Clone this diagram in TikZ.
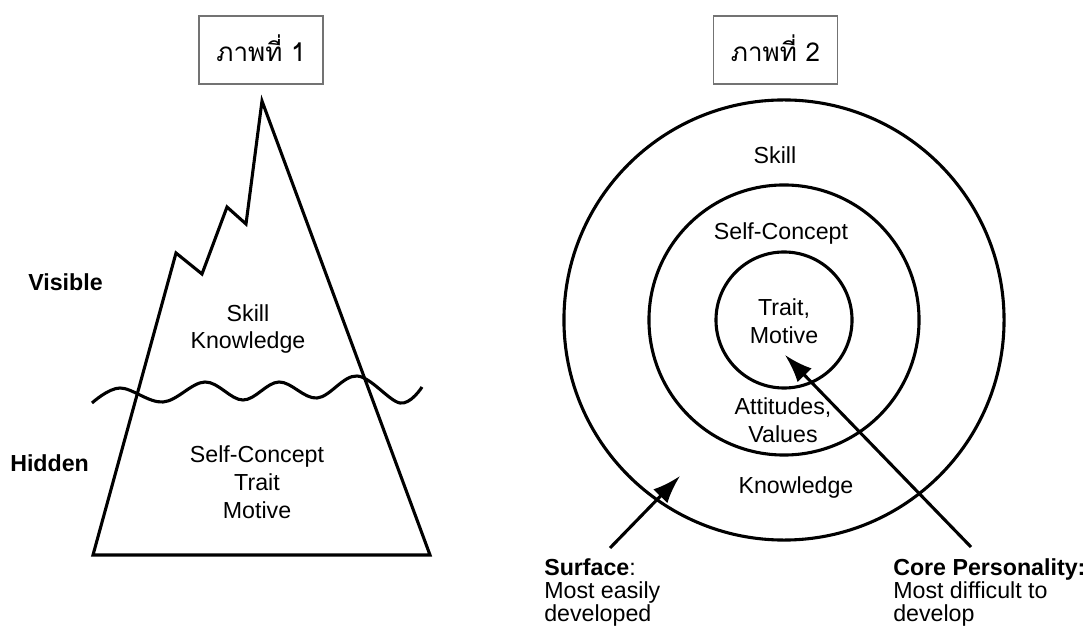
\documentclass[tikz,border=0pt]{standalone}
\usepackage{fontspec}
\setmainfont{Liberation Sans}
\newfontfamily\thaifont[Script=Thai]{Loma}
\usetikzlibrary{arrows.meta,positioning}

\tikzset{
  txt/.style={font=\fontsize{16.5}{19.9}\selectfont, align=center, inner sep=0pt},
  lbl/.style={font=\fontsize{16.5}{19.9}\selectfont\bfseries, inner sep=0pt, anchor=west},
  note/.style={font=\fontsize{16.5}{16.4}\selectfont, align=left, inner sep=0pt, anchor=north west},
  titlebox/.style={draw=black!55, line width=1pt, minimum width=3.1cm, minimum height=1.7cm,
    font=\thaifont\fontsize{18.5}{22}\selectfont},
  outline/.style={line width=2.2pt},
  pointer/.style={line width=2.2pt, -{Latex[length=20pt,width=14pt]}}
}

\begin{document}
\begin{tikzpicture}[x=0.025cm, y=-0.025cm]
\useasboundingbox (0,0) rectangle (1091,628);

% 标题
\node[titlebox] (title1) at (261,50) {\raisebox{3pt}{ภาพที่ 1}};
\node[titlebox] (title2) at (775.5,50) {\raisebox{3pt}{ภาพที่ 2}};

% 冰山
\draw[outline] (93,555) -- (176,253) -- (202,274) -- (227,207) -- (246,224)
  -- (262,101) -- (430,555) -- cycle;
\draw[outline] plot[smooth, tension=0.6] coordinates {(92,403) (120,388) (163,402)
  (205,382) (243,400) (279,382) (317,398) (357,376) (400,403) (422,387)};
\node[txt] (upper) at (248,329) {Skill\\Knowledge};
\node[txt] (lower) at (257,482) {Self-Concept\\Trait\\Motive};
\node[lbl] (visible) at (28,282) {Visible};
\node[lbl] (hidden) at (10,463) {Hidden};

% 同心圆
\coordinate (ctr) at (784,320);
\draw[outline] (ctr) circle[radius=5.5cm];
\draw[outline] (ctr) circle[radius=3.375cm];
\draw[outline] (ctr) circle[radius=1.7cm];
\node[txt] (skill) at (775,155) {Skill};
\node[txt] (self) at (781,234) {Self-Concept};
\node[txt] (trait) at (784,321) {Trait,\\Motive};
\node[txt] (att) at (783,420) {Attitudes,\\Values};
\node[txt] (know) at (796,488) {Knowledge};

% 说明
\node[note] (surface) at (544,558) {\textbf{Surface}:\\Most easily\\developed};
\node[note] (core) at (893,558) {\textbf{Core Personality:}\\Most difficult to\\develop};

% 箭头
\coordinate (surfTail) at (610,548);
\coordinate (surfTip) at (680,476);
\coordinate (coreTail) at (971,547);
\coordinate (coreTip) at (785,355);
\draw[pointer] (surfTail) -- (surfTip);
\draw[pointer] (coreTail) -- (coreTip);
\end{tikzpicture}
\end{document}
